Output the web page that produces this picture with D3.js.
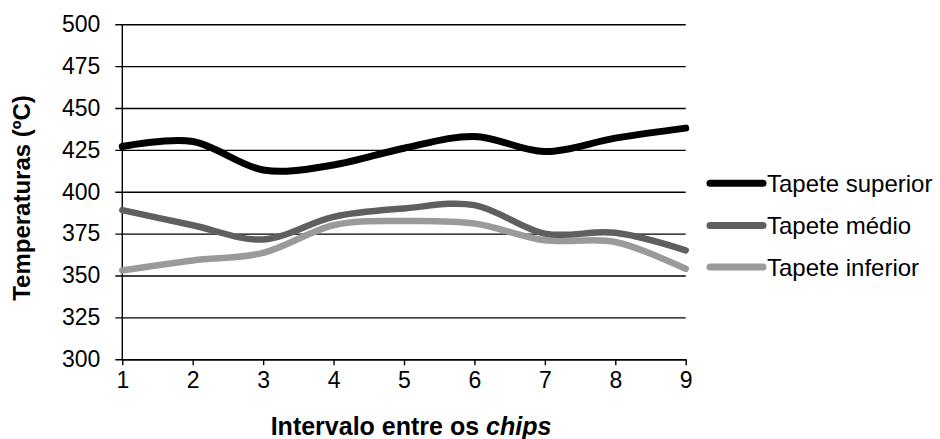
<!DOCTYPE html>
<html>
<head>
<meta charset="utf-8">
<script src="https://cdn.jsdelivr.net/npm/d3@7/dist/d3.min.js"></script>
<style>
  html, body { margin: 0; padding: 0; background: #fff; }
  svg { display: block; font-family: Arial, "Liberation Sans", sans-serif; }
</style>
</head>
<body>
<svg id="chart" width="940" height="439"></svg>
<script>
// Interval index between chips (x axis)
const intervals = [1, 2, 3, 4, 5, 6, 7, 8, 9];
// Temperatures (ºC) per belt position
const superior = [427, 430, 413, 416, 426, 433, 424, 432, 438];
const medio    = [389, 380, 371.5, 385, 390, 392, 375, 375.5, 365];
const inferior = [353, 359, 363.5, 380, 382.5, 381, 371, 370, 354];
const seriesNames = ["Tapete superior", "Tapete médio", "Tapete inferior"];
const yTicks = [300, 325, 350, 375, 400, 425, 450, 475, 500];

const series = [
  { name: seriesNames[0], values: superior, color: "#000000", width: 7 },
  { name: seriesNames[1], values: medio,    color: "#5f5f5f", width: 6.5 },
  { name: seriesNames[2], values: inferior, color: "#9a9a9a", width: 6.5 }
];

const svg = d3.select("#chart");
const plot = { left: 122.3, right: 685.7, top: 24.3, bottom: 359.2 };

const x = d3.scaleLinear().domain([1, 9]).range([plot.left, plot.right]);
const y = d3.scaleLinear().domain([300, 500]).range([plot.bottom, plot.top]);

// Horizontal gridlines with outward tick marks
const yAxis = d3.axisLeft(y)
  .tickValues(yTicks)
  .tickSize(-(plot.right - plot.left))
  .tickSizeOuter(0)
  .tickPadding(22)
  .tickFormat(d3.format("d"));

const gy = svg.append("g")
  .attr("transform", `translate(${plot.left},0)`)
  .call(yAxis);
gy.select(".domain").remove();
gy.selectAll(".tick line")
  .attr("x1", -7)
  .attr("stroke", "#000")
  .attr("stroke-width", 1.4);
gy.selectAll(".tick text")
  .attr("fill", "#000")
  .style("font-size", "23px");

// Vertical axis line
svg.append("line")
  .attr("x1", plot.left).attr("x2", plot.left)
  .attr("y1", plot.top).attr("y2", plot.bottom)
  .attr("stroke", "#000").attr("stroke-width", 1.4);

// Bottom axis
const xAxis = d3.axisBottom(x)
  .tickValues(intervals)
  .tickSize(6)
  .tickSizeOuter(0)
  .tickPadding(6)
  .tickFormat(d3.format("d"));

const gx = svg.append("g")
  .attr("transform", `translate(0,${plot.bottom})`)
  .call(xAxis);
gx.select(".domain").attr("stroke", "#000").attr("stroke-width", 1.4);
gx.selectAll(".tick line").attr("stroke", "#000").attr("stroke-width", 1.4);
gx.selectAll(".tick text")
  .attr("fill", "#000")
  .style("font-size", "23px");

// Smoothed series lines
const line = d3.line()
  .x((d, i) => x(intervals[i]))
  .y(d => y(d))
  .curve(d3.curveCardinal.tension(0));

svg.append("g").selectAll("path")
  .data(series.slice().reverse())
  .join("path")
  .attr("d", d => line(d.values))
  .attr("fill", "none")
  .attr("stroke", d => d.color)
  .attr("stroke-width", d => d.width)
  .attr("stroke-linejoin", "round")
  .attr("stroke-linecap", "round");

// Legend
const legendRows = [183.3, 225.5, 267];
const legend = svg.append("g");
series.forEach((s, i) => {
  const ly = legendRows[i];
  legend.append("line")
    .attr("x1", 710).attr("x2", 763)
    .attr("y1", ly).attr("y2", ly)
    .attr("stroke", s.color)
    .attr("stroke-width", 7)
    .attr("stroke-linecap", "round");
  legend.append("text")
    .attr("x", 767).attr("y", ly)
    .attr("dy", "0.36em")
    .style("font-size", "24px")
    .attr("fill", "#000")
    .text(s.name);
});

// Axis titles
svg.append("text")
  .attr("transform", "translate(30,198) rotate(-90)")
  .attr("text-anchor", "middle")
  .style("font-size", "24px")
  .style("font-weight", "bold")
  .text("Temperaturas (ºC)");

const xt = svg.append("text")
  .attr("x", 411).attr("y", 435)
  .attr("text-anchor", "middle")
  .style("font-size", "25px")
  .style("font-weight", "bold");
xt.append("tspan").text("Intervalo entre os ");
xt.append("tspan").style("font-style", "italic").text("chips");
</script>
</body>
</html>
